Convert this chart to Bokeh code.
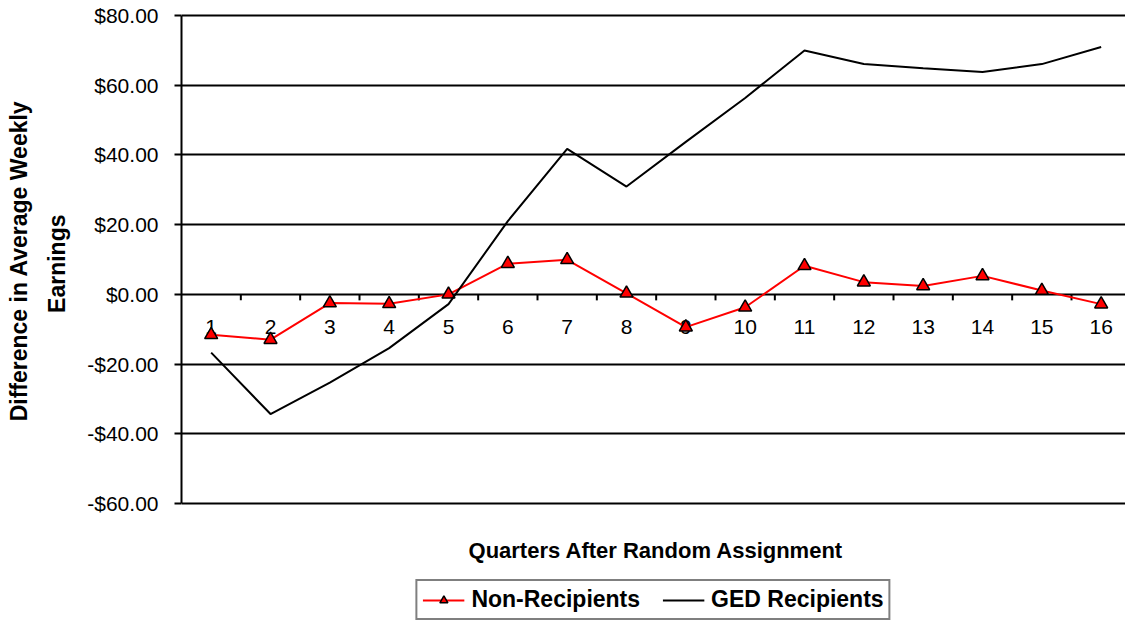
from bokeh.plotting import figure
from bokeh.models import (Range1d, FixedTicker, CustomJSTickFormatter, Legend, LegendItem,
                          ColumnDataSource, Label, Title)
from bokeh.core.properties import value
from bokeh.embed import file_html
from bokeh.resources import INLINE

# ---- data ----
quarters = list(range(1, 17))
quarter_labels = [str(q) for q in quarters]
non_recipients = [-11.6, -13.0, -2.5, -2.7, 0.0, 8.8, 9.9, 0.3, -9.4, -3.7, 8.2, 3.5, 2.4, 5.3, 1.1, -2.8]
ged_recipients = [-16.7, -34.3, -25.3, -15.4, -2.8, 21.0, 41.7, 30.9, 43.7, 56.3, 69.9, 66.0, 64.8, 63.7, 66.0, 70.9]
y_ticks = [-60, -40, -20, 0, 20, 40, 60, 80]
boundaries = [q + 0.5 for q in quarters]
x_title = "Quarters After Random Assignment"
y_title_lines = ["Difference in Average Weekly", "Earnings"]

FONT = "Liberation Sans"

# the frame runs down to the bottom of the figure so that the category title and the
# legend (which sit below the value axis' range) can be drawn inside it
p = figure(width=1125, height=621,
           x_range=Range1d(0.5, 16.41), y_range=Range1d(-93.76, 80.5),
           output_backend="svg", toolbar_location=None,
           min_border_left=181, min_border_right=0, min_border_top=13, min_border_bottom=0)
p.outline_line_color = None
p.background_fill_color = "white"
p.border_fill_color = "white"

# y axis (its line only spans the value range)
p.yaxis.bounds = (y_ticks[0], y_ticks[-1])
p.yaxis.ticker = FixedTicker(ticks=y_ticks)
p.yaxis.formatter = CustomJSTickFormatter(code="return (tick < 0 ? '-$' : '$') + Math.abs(tick).toFixed(2);")
p.yaxis.major_label_text_font = FONT
p.yaxis.major_label_text_font_size = "21px"
p.yaxis.major_label_text_color = "black"
p.yaxis.major_tick_in = 0
p.yaxis.major_tick_out = 7
p.yaxis.major_tick_line_width = 2
p.yaxis.major_tick_line_color = "black"
p.yaxis.minor_tick_line_color = None
p.yaxis.axis_line_width = 2
p.yaxis.axis_line_color = "black"
p.yaxis.major_label_standoff = 16

# value axis title (two lines, each centred on the value range)
title_style = dict(text_font=FONT, text_font_style="bold", text_font_size="23px",
                   text_color="black", align="right")
p.add_layout(Title(text=y_title_lines[1], offset=201, standoff=25, vertical_align="top",
                   **title_style), "left")
p.add_layout(Title(text=y_title_lines[0], offset=87, standoff=0, **title_style), "left")

p.xaxis.visible = False

# grid
p.xgrid.visible = False
p.ygrid.ticker = FixedTicker(ticks=y_ticks)
p.ygrid.grid_line_color = "black"
p.ygrid.grid_line_width = 2

# category tick marks and labels on the zero line
p.ray(x=boundaries, y=[0] * len(boundaries), length=6, length_units="screen",
      angle=-1.5707963, line_color="black", line_width=2)
p.text(x=quarters, y=[0] * len(quarters), text=quarter_labels, y_offset=33,
       text_align="center", text_baseline="middle", text_font=value(FONT),
       text_font_size="21px", text_color="black")

src = ColumnDataSource(dict(q=quarters, non=non_recipients, ged=ged_recipients))
r_line = p.line("q", "non", source=src, line_color="red", line_width=2)
r_mark = p.scatter("q", "non", source=src, marker="triangle", size=13,
                   fill_color="red", line_color="black", line_width=1.5)
g_line = p.line("q", "ged", source=src, line_color="black", line_width=2)

# category axis title, centred under the quarters
p.add_layout(Label(x=(quarters[0] + quarters[-1]) / 2, y=y_ticks[0], y_offset=-47,
                   text=x_title, text_align="center", text_baseline="middle",
                   text_font=FONT, text_font_style="bold", text_font_size="22px",
                   text_color="black"))

legend = Legend(items=[LegendItem(label="Non-Recipients", renderers=[r_line, r_mark]),
                       LegendItem(label="GED Recipients", renderers=[g_line])],
                location="bottom_center", orientation="horizontal")
legend.label_text_font = FONT
legend.label_text_font_style = "bold"
legend.label_text_font_size = "23px"
legend.label_text_color = "black"
legend.glyph_width = 42
legend.glyph_height = 20
legend.label_standoff = 7
legend.spacing = 22
legend.padding = 5
legend.margin = 1
legend.border_line_color = "black"
legend.border_line_width = 2
legend.background_fill_color = "white"
legend.background_fill_alpha = 1
p.add_layout(legend, "center")

open("out.html", "w").write(file_html(p, INLINE))
